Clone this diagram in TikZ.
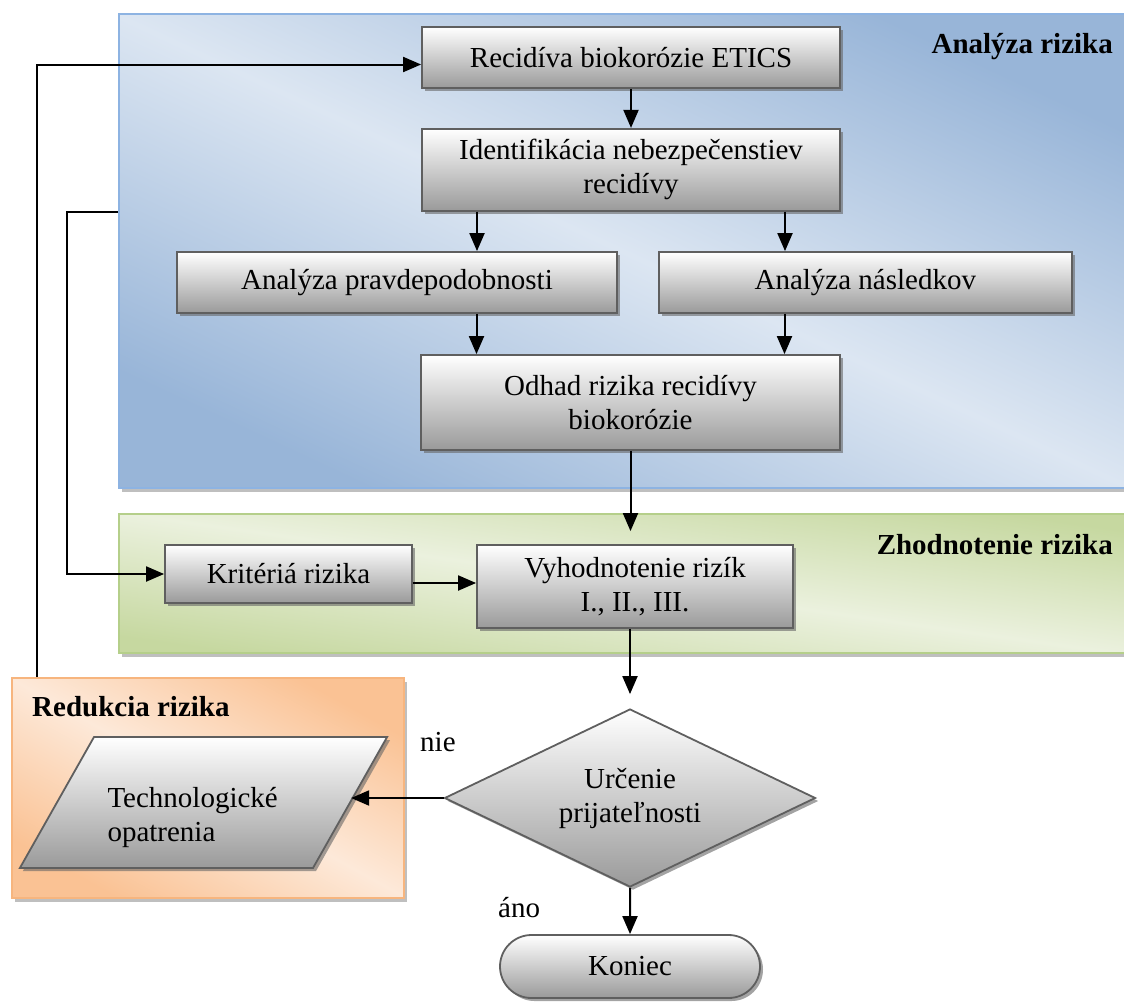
\documentclass[tikz,border=0pt]{standalone}
\usepackage{fontspec}
\setmainfont{Liberation Serif}
\usepackage{tikz}
\usetikzlibrary{arrows.meta,positioning,shapes.geometric,shapes.misc,shadows}
\definecolor{boxline}{HTML}{5F5F5F}
\definecolor{boxlow}{HTML}{9A9A9A}
\definecolor{blueLight}{HTML}{DCE6F2}
\definecolor{blueDark}{HTML}{98B5D8}
\definecolor{blueLine}{HTML}{8DB3E2}
\definecolor{greenLight}{HTML}{EBF1DE}
\definecolor{greenDark}{HTML}{C6D8A0}
\definecolor{greenLine}{HTML}{B5CF8A}
\definecolor{orangeLight}{HTML}{FDE9D9}
\definecolor{orangeDark}{HTML}{FAC294}
\definecolor{orangeLine}{HTML}{F7B57E}
\newcommand{\diafont}{\fontsize{29}{34}\selectfont}

\begin{document}
\begin{tikzpicture}[
  x=1pt, y=-1pt,
  node distance=39pt,
  box/.style={rectangle,draw=boxline,line width=1.8pt,
              top color=white,bottom color=boxlow,
              drop shadow={shadow xshift=3pt,shadow yshift=-3pt,fill=black!60,opacity=.6},
              font=\diafont,align=center,inner sep=0pt},
  decision/.style={box,diamond,aspect=2},
  io/.style={box,trapezium,trapezium left angle=60.5,trapezium right angle=119.5,
             inner xsep=13.5pt,text height=87pt,text depth=44pt},
  terminal/.style={box,rounded rectangle},
  panel/.style={rectangle,draw=#1Line,line width=1.5pt,
                top color=#1Dark,bottom color=#1Dark,middle color=#1Light,
                drop shadow={shadow xshift=3pt,shadow yshift=-4pt,fill=black!50,opacity=.5},
                inner sep=0pt,anchor=north west},
  title/.style={font=\diafont\bfseries,inner sep=0pt},
  lbl/.style={font=\diafont,inner sep=0pt,anchor=west},
  arr/.style={-{Triangle[length=18pt,width=15pt]},line width=2pt,black},
]
\useasboundingbox (0,0) rectangle (1124,1001);

% panels
\node[panel=blue,shading angle=-25,minimum width=1006pt,minimum height=474pt] (panA) at (118,13) {};
\node[panel=green,shading angle=-8,minimum width=1006pt,minimum height=139pt] (panZ) at (118,513) {};
\node[panel=orange,shading angle=-29,minimum width=392pt,minimum height=220pt] (panR) at (11,677) {};

\node[title,anchor=east] (tA) at (1113,47) {Analýza rizika};
\node[title,anchor=east] (tZ) at (1113,545) {Zhodnotenie rizika};
\node[title,anchor=west] (tR) at (32,707) {Redukcia rizika};

% steps
\node[box,minimum width=418pt,minimum height=61pt] (rec) at (631,57.5) {Recidíva biokorózie ETICS};
\node[box,minimum width=418pt,minimum height=82pt,below=of rec] (ident) {Identifikácia nebezpečenstiev\\recidívy};
\node[box,minimum width=440pt,minimum height=61pt] (prav) at (397,282.5) {Analýza pravdepodobnosti};
\node[box,minimum width=413pt,minimum height=61pt,right=40pt of prav] (nasl) {Analýza následkov};
\node[box,minimum width=419pt,minimum height=95pt] (odhad) at (630.5,402.5) {Odhad rizika recidívy\\biokorózie};
\node[box,minimum width=247pt,minimum height=58pt] (krit) at (288.5,574) {Kritériá rizika};
\node[box,minimum width=316pt,minimum height=83pt] (vyh) at (635,586.5) {Vyhodnotenie rizík\\I., II., III.};
\node[decision,minimum width=371pt,minimum height=178pt] (urc) at (630,798) {Určenie\\prijateľnosti};
\node[io] (tech) at (203.5,802.5) {\parbox[c]{192pt}{\raggedright Technologické\\opatrenia}};
\node[terminal,minimum width=260pt,minimum height=63pt] (kon) at (630,966.5) {Koniec};

\node[lbl] (nie) at (420,742) {nie};
\node[lbl] (ano) at (498,908) {áno};

% connectors
\draw[arr] (rec) -- (ident);
\draw[arr] ([xshift=-154pt]ident.south) -- ([xshift=-154pt]ident.south |- prav.north);
\draw[arr] ([xshift=154pt]ident.south) -- ([xshift=154pt]ident.south |- nasl.north);
\draw[arr] ([xshift=-154pt]odhad.north |- prav.south) -- ([xshift=-154pt]odhad.north);
\draw[arr] ([xshift=154pt]odhad.north |- nasl.south) -- ([xshift=154pt]odhad.north);
\draw[arr,shorten >=13pt] (odhad.south) -- (odhad.south |- vyh.north);
\draw[arr] ([yshift=-9pt]krit.east) -- ([yshift=-9pt]krit.east -| vyh.west);
\draw[arr,shorten >=14pt] (urc.north |- vyh.south) -- (urc.north);
\draw[arr] (urc) -- (urc -| tech.east);
\draw[arr] (urc) -- (kon);
\draw[arr] ([xshift=26pt]panR.north west) |- ([yshift=-7pt]rec.west);
\draw[arr] (panA.west |- ident.south) -- ++(-51,0) |- (krit.west);

\end{tikzpicture}
\end{document}
